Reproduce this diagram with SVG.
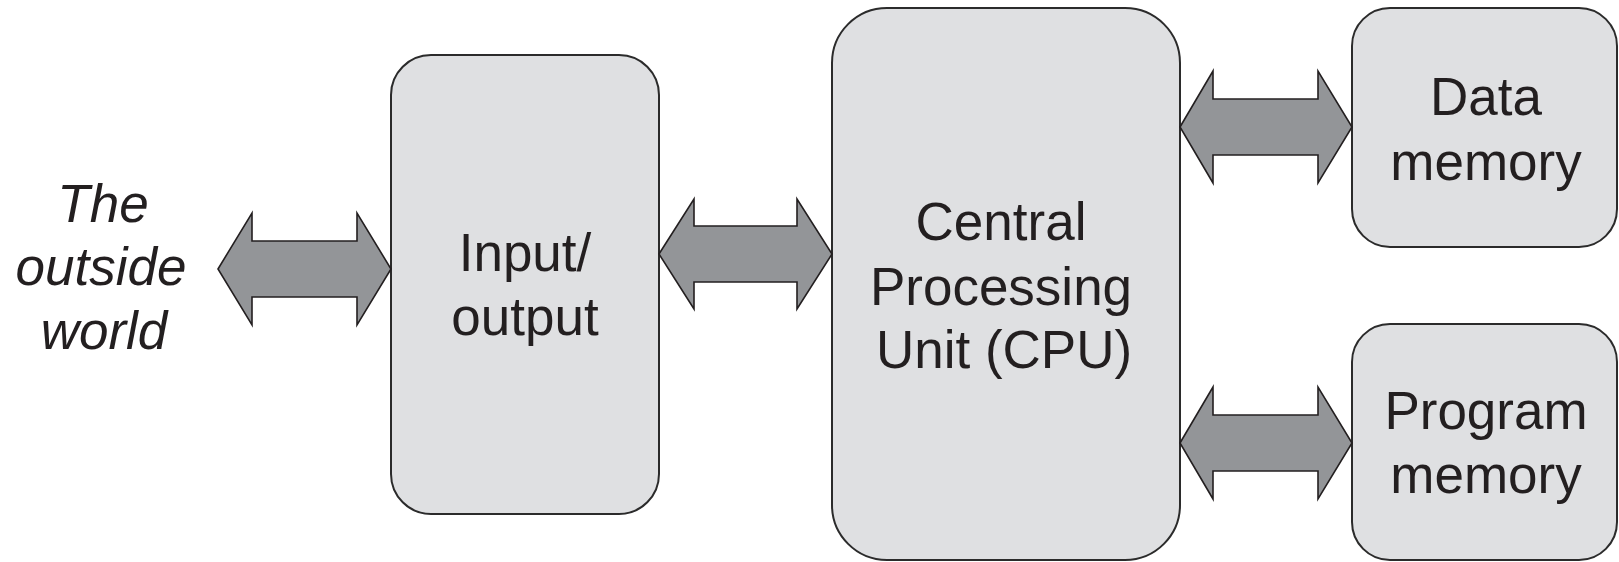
<svg xmlns="http://www.w3.org/2000/svg" width="1619" height="562" viewBox="0 0 1619 562">
<style>
.box{fill:#dfe0e2;stroke:#2b2b2b;stroke-width:2}
.arr{fill:#939598;stroke:#231f20;stroke-width:1.6;stroke-linejoin:miter}
.t{font-family:"Liberation Sans",Arial,sans-serif;font-size:53px;fill:#231f20;text-anchor:middle}
.it{font-style:italic}
</style>
<rect width="1619" height="562" fill="#ffffff"/>
<g id="outside">
<text class="t it" x="103" y="222">The</text>
<text class="t it" x="101" y="285">outside</text>
<text class="t it" x="104" y="349">world</text>
</g>
<g id="io">
<rect class="box" x="391" y="55" width="268" height="459" rx="40"/>
<text class="t" x="525" y="271">Input/</text>
<text class="t" x="525" y="335">output</text>
</g>
<g id="cpu">
<rect class="box" x="832" y="8" width="348" height="552" rx="55"/>
<text class="t" x="1001" y="240">Central</text>
<text class="t" x="1001" y="305">Processing</text>
<text class="t" x="1004" y="368">Unit (CPU)</text>
</g>
<g id="datamem">
<rect class="box" x="1352" y="8" width="265" height="239" rx="38"/>
<text class="t" x="1486" y="115">Data</text>
<text class="t" x="1486" y="180">memory</text>
</g>
<g id="progmem">
<rect class="box" x="1352" y="324" width="265" height="236" rx="38"/>
<text class="t" x="1486" y="429">Program</text>
<text class="t" x="1486" y="493">memory</text>
</g>
<g id="connectors">
<polygon class="arr" points="218,269 252,213 252,241 357,241 357,213 391,269 357,325 357,297 252,297 252,325"/>
<polygon class="arr" points="659,254 694,199 694,226 797,226 797,199 832,254 797,309 797,282 694,282 694,309"/>
<polygon class="arr" points="1180,127 1213,71 1213,99 1318,99 1318,71 1352,127 1318,183 1318,155 1213,155 1213,183"/>
<polygon class="arr" points="1180,443 1213,387 1213,415 1318,415 1318,387 1352,443 1318,499 1318,471 1213,471 1213,499"/>
</g>
</svg>
